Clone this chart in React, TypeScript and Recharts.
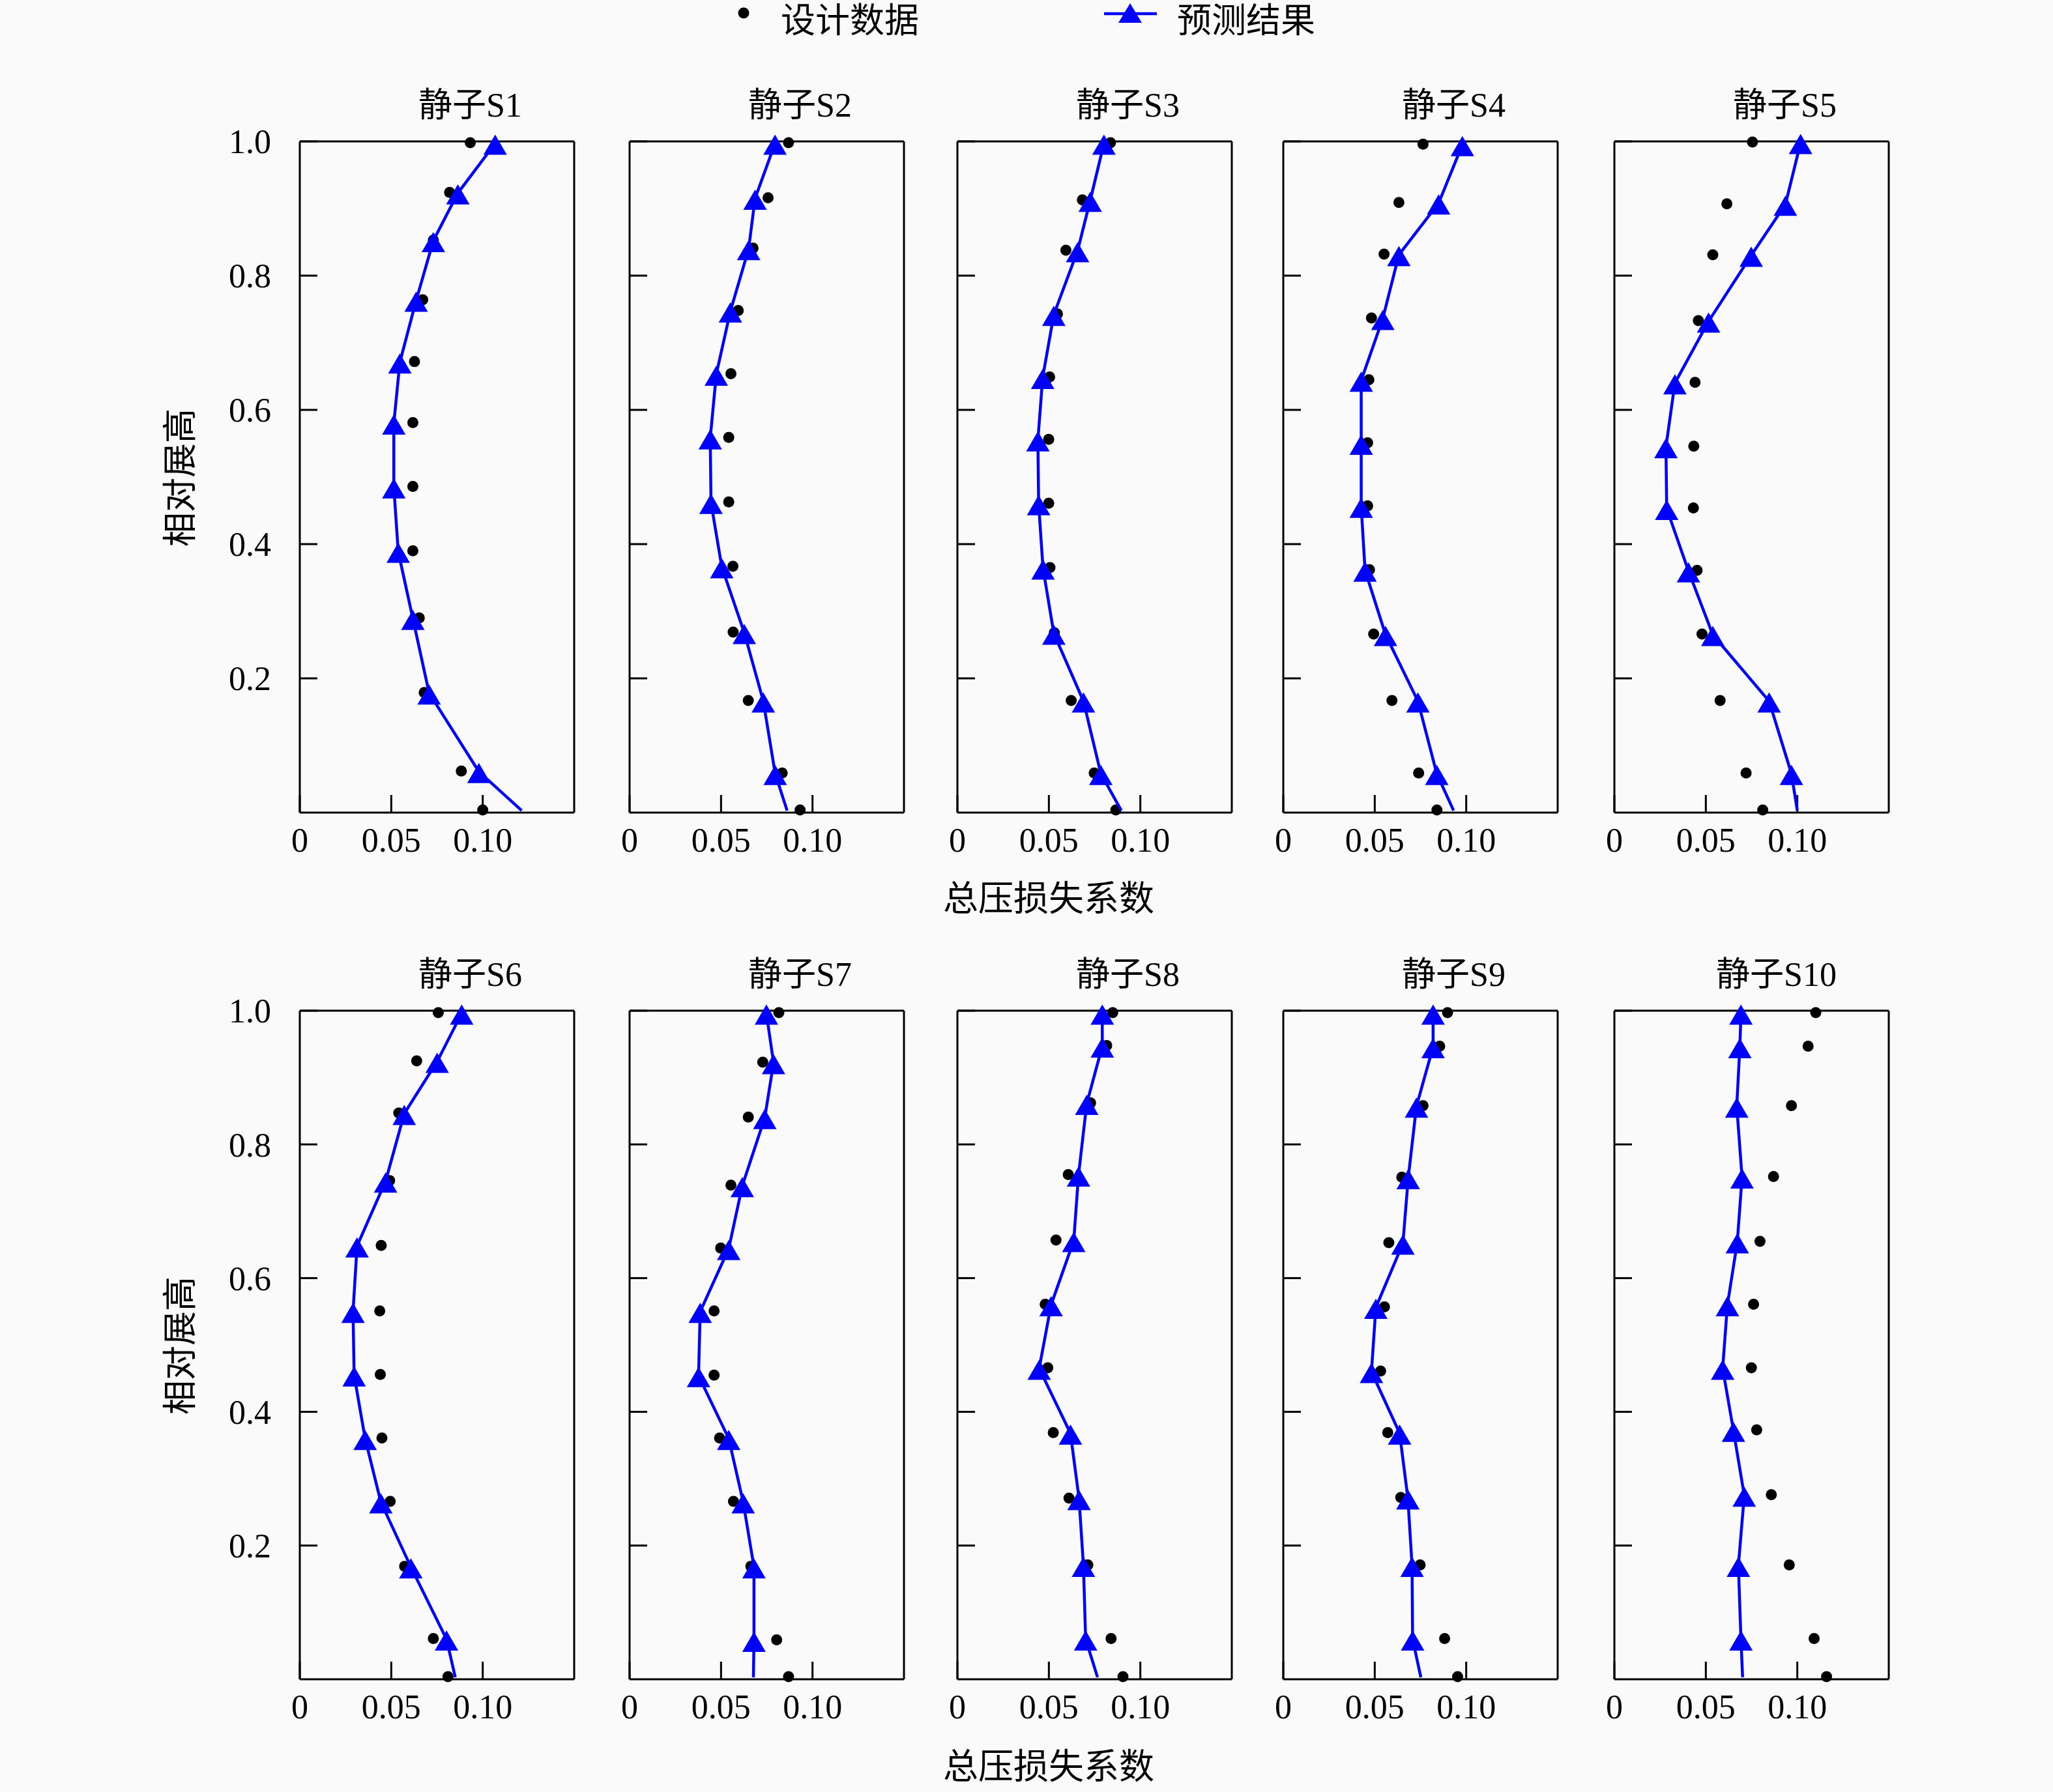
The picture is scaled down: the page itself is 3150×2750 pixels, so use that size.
import React from "react";
import { ScatterChart, Scatter, XAxis, YAxis, ReferenceLine } from "recharts";

// relative span levels (y) per stator, top to hub
const SPAN_S1 = [0.997, 0.923, 0.852, 0.763, 0.671, 0.58, 0.485, 0.389, 0.289, 0.178, 0.061, 0.003];
const SPAN_S2 = [0.997, 0.915, 0.84, 0.747, 0.653, 0.558, 0.462, 0.366, 0.268, 0.166, 0.058, 0.003];
const SPAN_S3 = [0.997, 0.912, 0.837, 0.742, 0.648, 0.555, 0.46, 0.364, 0.267, 0.166, 0.058, 0.003];
const SPAN_S4 = [0.995, 0.908, 0.831, 0.736, 0.644, 0.55, 0.456, 0.361, 0.265, 0.166, 0.058, 0.003];
const SPAN_S5 = [0.998, 0.906, 0.83, 0.732, 0.64, 0.545, 0.453, 0.36, 0.265, 0.166, 0.058, 0.003];
const SPAN_S6 = [0.996, 0.924, 0.846, 0.745, 0.648, 0.55, 0.455, 0.36, 0.265, 0.168, 0.06, 0.003];
const SPAN_S7 = [0.996, 0.922, 0.84, 0.738, 0.644, 0.55, 0.454, 0.36, 0.265, 0.168, 0.058, 0.003];
const SPAN_S8 = [0.996, 0.947, 0.861, 0.754, 0.656, 0.56, 0.465, 0.368, 0.27, 0.17, 0.06, 0.003];
const SPAN_S9 = [0.996, 0.946, 0.857, 0.75, 0.652, 0.556, 0.46, 0.368, 0.271, 0.17, 0.06, 0.003];
const SPAN_S10 = [0.996, 0.946, 0.857, 0.751, 0.654, 0.56, 0.465, 0.372, 0.275, 0.17, 0.06, 0.003];

// 设计数据 (total pressure loss coefficient)
const DESIGN_S1 = [0.0932, 0.0819, 0.073, 0.0672, 0.0627, 0.0618, 0.0618, 0.0618, 0.0653, 0.068, 0.0883, 0.1];
const DESIGN_S2 = [0.0869, 0.0757, 0.0675, 0.0594, 0.0554, 0.0542, 0.0542, 0.0565, 0.0566, 0.0649, 0.0834, 0.0932];
const DESIGN_S3 = [0.0837, 0.0683, 0.0593, 0.0547, 0.0504, 0.0499, 0.0499, 0.0506, 0.053, 0.0622, 0.0748, 0.0866];
const DESIGN_S4 = [0.0764, 0.0632, 0.0551, 0.0482, 0.0468, 0.0461, 0.0461, 0.0471, 0.0494, 0.0594, 0.074, 0.084];
const DESIGN_S5 = [0.0755, 0.0615, 0.0538, 0.0459, 0.0441, 0.0434, 0.0432, 0.0452, 0.0479, 0.0578, 0.072, 0.0811];
const DESIGN_S6 = [0.0757, 0.0639, 0.0541, 0.0491, 0.0445, 0.0437, 0.044, 0.0449, 0.0494, 0.0573, 0.073, 0.081];
const DESIGN_S7 = [0.0816, 0.0728, 0.0649, 0.0554, 0.0498, 0.0462, 0.0462, 0.0492, 0.0568, 0.0663, 0.0804, 0.0869];
const DESIGN_S8 = [0.0849, 0.0816, 0.0728, 0.0606, 0.0539, 0.048, 0.0494, 0.0524, 0.061, 0.0713, 0.084, 0.0905];
const DESIGN_S9 = [0.0898, 0.0855, 0.0764, 0.0648, 0.0577, 0.0553, 0.0532, 0.0571, 0.0642, 0.0748, 0.0882, 0.0953];
const DESIGN_S10 = [0.1101, 0.1059, 0.0968, 0.087, 0.0796, 0.0761, 0.0749, 0.0778, 0.0858, 0.0956, 0.1092, 0.116];

// 预测结果
const PRED_S1 = [0.1068, 0.0864, 0.073, 0.0636, 0.0547, 0.0514, 0.0514, 0.0538, 0.0618, 0.0707, 0.0979, 0.1213];
const PRED_S2 = [0.0795, 0.0686, 0.0651, 0.0551, 0.0474, 0.0441, 0.0445, 0.0504, 0.0627, 0.0731, 0.0796, 0.0861];
const PRED_S3 = [0.0801, 0.0726, 0.0657, 0.0527, 0.0466, 0.044, 0.0444, 0.0468, 0.0527, 0.0689, 0.0784, 0.0896];
const PRED_S4 = [0.0979, 0.0849, 0.0632, 0.0544, 0.0426, 0.0426, 0.0426, 0.0447, 0.0559, 0.0736, 0.0839, 0.0931];
const PRED_S5 = [0.1018, 0.0935, 0.0748, 0.0515, 0.0331, 0.0282, 0.0286, 0.0405, 0.0538, 0.0846, 0.0968, 0.1];
const PRED_S6 = [0.0885, 0.0751, 0.0571, 0.0469, 0.0313, 0.0291, 0.0297, 0.0357, 0.0443, 0.0607, 0.0802, 0.085];
const PRED_S7 = [0.0748, 0.0787, 0.0739, 0.0616, 0.0542, 0.0386, 0.0377, 0.0542, 0.0621, 0.068, 0.068, 0.0677];
const PRED_S8 = [0.0792, 0.0792, 0.0707, 0.0662, 0.0636, 0.0512, 0.0447, 0.0618, 0.0665, 0.0689, 0.0701, 0.0766];
const PRED_S9 = [0.0819, 0.0819, 0.0728, 0.0683, 0.0654, 0.0506, 0.0482, 0.0636, 0.0681, 0.0704, 0.0707, 0.0752];
const PRED_S10 = [0.0692, 0.0686, 0.0669, 0.0698, 0.0672, 0.0618, 0.0592, 0.0651, 0.071, 0.0678, 0.0692, 0.0701];

const TITLES = ["静子S1", "静子S2", "静子S3", "静子S4", "静子S5", "静子S6", "静子S7", "静子S8", "静子S9", "静子S10"];
const SPANS = [SPAN_S1, SPAN_S2, SPAN_S3, SPAN_S4, SPAN_S5, SPAN_S6, SPAN_S7, SPAN_S8, SPAN_S9, SPAN_S10];
const DESIGNS = [DESIGN_S1, DESIGN_S2, DESIGN_S3, DESIGN_S4, DESIGN_S5, DESIGN_S6, DESIGN_S7, DESIGN_S8, DESIGN_S9, DESIGN_S10];
const PREDS = [PRED_S1, PRED_S2, PRED_S3, PRED_S4, PRED_S5, PRED_S6, PRED_S7, PRED_S8, PRED_S9, PRED_S10];

const X_DOMAIN: [number, number] = [0, 0.15];
const Y_DOMAIN: [number, number] = [0, 1];
const X_TICKS = [0, 0.05, 0.1];
const X_TICK_LABELS = ["0", "0.05", "0.10"];
const Y_TICKS = [0.2, 0.4, 0.6, 0.8, 1.0];

const BLUE = "#0000ff";
const SERIF = "'Liberation Serif', 'Noto Sans CJK SC', serif";
const CJK = "'Liberation Serif', 'Noto Sans CJK SC', sans-serif";

// layout (px)
const COL_X = [460, 966, 1469, 1969, 2477];
const ROW_Y = [217, 1551];
const ROW_H = [1030, 1026];
const PLOT_W = 421;
const AXIS_W = 140;
const AXIS_H = 100;
const PAD_TOP = 40;
const PAD_RIGHT = 20;
const TICK_LEN = 27;

const TRI_W = 36;
const TRI_H = 31;

const zip = (xs: number[], ys: number[]) =>
  xs.map((x, i) => ({ x, y: ys[i], end: i === xs.length - 1 }));

const DotShape = (props: any) => {
  const { cx, cy } = props;
  if (cx == null || cy == null) return null;
  return <circle cx={cx} cy={cy - 1} r={8.5} fill="#000" />;
};

const TriShape = (props: any) => {
  const { cx, cy, payload } = props;
  if (cx == null || cy == null || (payload && payload.end)) return null;
  const c = cy + 2;
  const pts = `${cx},${c - TRI_H / 2} ${cx - TRI_W / 2},${c + TRI_H / 2} ${cx + TRI_W / 2},${c + TRI_H / 2}`;
  return <polygon points={pts} fill={BLUE} />;
};

const axisLine = { stroke: "#000", strokeWidth: 3 };
const tickLine = { stroke: "#000", strokeWidth: 3 };
const tickStyle = { fill: "#000", fontSize: 52, fontFamily: SERIF };

function Panel({ idx }: { idx: number }) {
  const col = idx % 5;
  const row = Math.floor(idx / 5);
  const plotH = ROW_H[row];
  const design = zip(DESIGNS[idx], SPANS[idx]);
  const pred = zip(PREDS[idx], SPANS[idx]);
  return (
    <div style={{ position: "absolute", left: COL_X[col] - AXIS_W, top: ROW_Y[row] - PAD_TOP }}>
      <ScatterChart
        width={AXIS_W + PLOT_W + PAD_RIGHT}
        height={PAD_TOP + plotH + AXIS_H}
        margin={{ top: PAD_TOP, right: PAD_RIGHT, left: 0, bottom: 0 }}
      >
        <XAxis
          type="number"
          dataKey="x"
          domain={X_DOMAIN}
          ticks={X_TICKS}
          tickFormatter={(v: number) => X_TICK_LABELS[X_TICKS.indexOf(v)] ?? ""}
          height={AXIS_H}
          axisLine={axisLine}
          tickLine={tickLine}
          tickSize={-TICK_LEN}
          tickMargin={50}
          tick={tickStyle}
          interval={0}
        />
        <YAxis
          type="number"
          dataKey="y"
          domain={Y_DOMAIN}
          ticks={Y_TICKS}
          tickFormatter={(v: number) => (col === 0 ? v.toFixed(1) : "")}
          width={AXIS_W}
          axisLine={axisLine}
          tickLine={tickLine}
          tickSize={-TICK_LEN}
          tickMargin={TICK_LEN + 44}
          tick={tickStyle}
          interval={0}
        />
        {/* top and right frame */}
        <ReferenceLine y={Y_DOMAIN[1]} stroke="#000" strokeWidth={3} ifOverflow="visible" />
        <ReferenceLine x={X_DOMAIN[1]} stroke="#000" strokeWidth={3} ifOverflow="visible" />
        <Scatter data={design} fill="#000" shape={DotShape} isAnimationActive={false} />
        <Scatter
          data={pred}
          fill={BLUE}
          line={{ stroke: BLUE, strokeWidth: 4.5, fill: "none" }}
          lineType="joint"
          shape={TriShape}
          isAnimationActive={false}
        />
      </ScatterChart>
    </div>
  );
}

export default function App() {
  const titleY = [161, 1495];
  const xLabelY = [1380, 2712];
  const yLabelY = [733, 2065];
  return (
    <div style={{ position: "relative", width: 3150, height: 2750, background: "#fafafa", overflow: "hidden" }}>
      <style>{`body{margin:0;background:#fafafa;}`}</style>
      <svg width={3150} height={2750} style={{ position: "absolute", left: 0, top: 0 }}>
        {/* legend */}
        <circle cx={1141} cy={20} r={8.5} fill="#000" />
        <text x={1198} y={32} fontSize={53} fontFamily={CJK} dominantBaseline="central" fill="#000">
          设计数据
        </text>
        <line x1={1694} y1={21} x2={1775} y2={21} stroke={BLUE} strokeWidth={4.5} />
        <polygon points="1734,5 1716,35 1752,35" fill={BLUE} />
        <text x={1806} y={32} fontSize={53} fontFamily={CJK} dominantBaseline="central" fill="#000">
          预测结果
        </text>

        {TITLES.map((t, i) => (
          <text
            key={t}
            x={COL_X[i % 5] + 341}
            y={titleY[Math.floor(i / 5)]}
            textAnchor="end"
            dominantBaseline="central"
            fontSize={52}
            fontFamily={CJK}
            fill="#000"
          >
            {t}
          </text>
        ))}

        {[0, 1].map((r) => (
          <g key={r}>
            <text
              x={1609}
              y={xLabelY[r]}
              textAnchor="middle"
              dominantBaseline="central"
              fontSize={54}
              fontFamily={CJK}
              fill="#000"
            >
              总压损失系数
            </text>
            <text
              x={277}
              y={yLabelY[r]}
              textAnchor="middle"
              dominantBaseline="central"
              fontSize={53}
              fontFamily={CJK}
              fill="#000"
              transform={`rotate(-90, 277, ${yLabelY[r]})`}
            >
              相对展高
            </text>
          </g>
        ))}
      </svg>
      {TITLES.map((t, i) => (
        <Panel key={t} idx={i} />
      ))}
    </div>
  );
}
